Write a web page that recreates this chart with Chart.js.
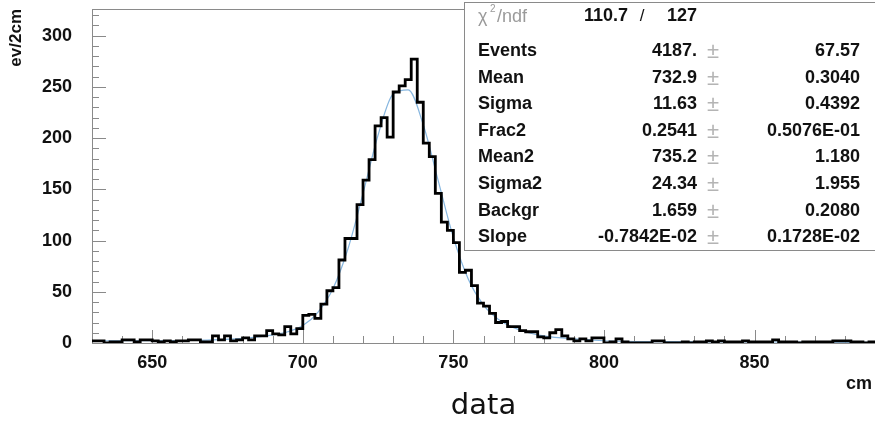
<!DOCTYPE html>
<html>
<head>
<meta charset="utf-8">
<script src="https://cdn.jsdelivr.net/npm/chart.js@4.4.1/dist/chart.umd.min.js"></script>
<style>
  html, body { margin: 0; padding: 0; background: #fff; }
</style>
</head>
<body>
<canvas id="chart" width="875" height="424"></canvas>
<script>
// Histogram: 2 cm bins starting at 630 cm
const binStart = 630;
const binWidth = 2;
const counts = [
    2, 2, 0, 1, 1, 3, 3, 1, 3, 3,
    2, 1, 2, 1, 2, 2, 3, 3, 1, 1,
    7, 3, 7, 2, 3, 5, 3, 7, 7, 12,
    9, 8, 16, 9, 14, 27, 28, 24, 38, 51,
    54, 81, 102, 102, 135, 159, 179, 212, 220, 201,
    245, 251, 257, 277, 235, 195, 182, 146, 118, 110,
    98, 69, 71, 56, 39, 36, 29, 20, 21, 16,
    16, 12, 11, 11, 6, 5, 10, 13, 7, 4,
    2, 4, 2, 5, 5, 0, 1, 4, 1, 0,
    0, 0, 0, 2, 2, 0, 0, 0, 1, 0,
    1, 1, 2, 1, 2, 1, 1, 1, 2, 1,
    1, 1, 1, 3, 1, 1, 1, 0, 1, 1,
    1, 1, 1, 2, 2, 2, 1, 1, 0, 1
];

// Fit curve
const fitX = [630, 640, 650, 660, 670, 680, 685, 690, 695, 700, 705, 710, 715, 720, 725,
              730, 735, 740, 745, 750, 755, 760, 765, 770, 775, 780, 790, 800, 820, 850, 890];
const fitY = [2.2, 2.2, 2.2, 2.4, 3, 4.5, 6, 8, 11, 17, 30, 53, 92, 146, 203,
              243, 247, 213, 158, 103, 62, 37, 23, 15, 10, 7, 4, 2.2, 1.3, 1, 0.7];

// Axes
const xTicks = [650, 700, 750, 800, 850];
const yTicks = [0, 50, 100, 150, 200, 250, 300];

// Fit results box
const statNames = ['Events', 'Mean', 'Sigma', 'Frac2', 'Mean2', 'Sigma2', 'Backgr', 'Slope'];
const statValues = ['4187.', '732.9', '11.63', '0.2541', '735.2', '24.34', '1.659', '-0.7842E-02'];
const statErrors = ['67.57', '0.3040', '0.4392', '0.5076E-01', '1.180', '1.955', '0.2080', '0.1728E-02'];
const chi2 = '110.7';
const ndf = '127';

const FONT = '"Liberation Sans", Arial, Helvetica, sans-serif';
const AXIS_GREY = '#8a8a8a';

const histPoints = counts.map((c, i) => ({ x: binStart + i * binWidth, y: c }));
histPoints.push({ x: binStart + counts.length * binWidth, y: counts[counts.length - 1] });
const fitPoints = fitX.map((x, i) => ({ x: x, y: fitY[i] }));

// no extra label padding around the plot area
function noPadding(scale) {
    scale.paddingTop = 0;
    scale.paddingBottom = 0;
    scale.paddingLeft = 0;
    scale.paddingRight = 0;
}

// Inward tick marks and top frame line
const frameTicks = {
    id: 'frameTicks',
    beforeDatasetsDraw(chart) {
        const { ctx, chartArea: a, scales: { x, y } } = chart;
        ctx.save();
        ctx.strokeStyle = AXIS_GREY;
        ctx.lineWidth = 1;
        ctx.beginPath();
        ctx.moveTo(a.left, a.top + 0.5);
        ctx.lineTo(a.right, a.top + 0.5);
        for (let v = 0; v <= y.max; v += 10) {
            const py = Math.round(y.getPixelForValue(v)) + 0.5;
            const len = v % 50 === 0 ? 14 : 7;
            ctx.moveTo(a.left, py);
            ctx.lineTo(a.left + len, py);
        }
        for (let v = 640; v < x.max; v += 10) {
            const px = Math.round(x.getPixelForValue(v)) + 0.5;
            const len = v % 50 === 0 ? 13 : 7;
            ctx.moveTo(px, a.bottom);
            ctx.lineTo(px, a.bottom - len);
        }
        ctx.stroke();
        ctx.restore();
    }
};

// Fit statistics box and axis unit
const statsBox = {
    id: 'statsBox',
    afterDraw(chart) {
        const { ctx } = chart;
        const left = 464, top = 2, right = 880, bottom = 250;
        ctx.save();
        ctx.fillStyle = '#fff';
        ctx.fillRect(left, top, right - left, bottom - top);
        ctx.strokeStyle = AXIS_GREY;
        ctx.lineWidth = 1;
        ctx.strokeRect(left + 0.5, top + 0.5, right - left, bottom - top);

        ctx.textBaseline = 'middle';
        // chi2 / ndf row
        ctx.fillStyle = '#9a9a9a';
        ctx.font = '18px ' + FONT;
        ctx.textAlign = 'left';
        ctx.fillText('χ', 478, 17);
        ctx.font = '10px ' + FONT;
        ctx.fillText('2', 490, 9);
        ctx.font = '18px ' + FONT;
        ctx.fillText('/ndf', 497, 17);
        ctx.fillStyle = '#111';
        ctx.font = 'bold 18px ' + FONT;
        ctx.textAlign = 'right';
        ctx.fillText(chi2, 628, 16);
        ctx.fillText(ndf, 697, 16);
        ctx.font = '17px ' + FONT;
        ctx.textAlign = 'center';
        ctx.fillText('/', 642, 16);

        statNames.forEach((name, i) => {
            const ty = 51 + i * 26.6;
            ctx.fillStyle = '#111';
            ctx.font = 'bold 18px ' + FONT;
            ctx.textAlign = 'left';
            ctx.fillText(name, 478, ty);
            ctx.textAlign = 'right';
            ctx.fillText(statValues[i], 697, ty);
            ctx.fillText(statErrors[i], 860, ty);
            ctx.fillStyle = '#b4b4b4';
            ctx.font = '22px ' + FONT;
            ctx.textAlign = 'center';
            ctx.fillText('±', 713, ty + 1);
        });

        // axis unit
        ctx.fillStyle = '#111';
        ctx.font = 'bold 18px ' + FONT;
        ctx.textAlign = 'right';
        ctx.fillText('cm', 872, 384);
        ctx.restore();
    }
};

new Chart(document.getElementById('chart'), {
    type: 'line',
    data: {
        datasets: [
            {
                label: 'fit',
                data: fitPoints,
                borderColor: '#86b6df',
                borderWidth: 1.2,
                pointRadius: 0,
                cubicInterpolationMode: 'monotone',
                fill: false,
                order: 2
            },
            {
                label: 'data',
                data: histPoints,
                borderColor: '#000',
                borderWidth: 2.8,
                pointRadius: 0,
                stepped: true,
                fill: false,
                order: 1
            }
        ]
    },
    options: {
        responsive: false,
        animation: false,
        layout: { padding: { top: 9, right: 0, left: 0, bottom: 0 } },
        plugins: {
            legend: { display: false },
            tooltip: { enabled: false }
        },
        scales: {
            x: {
                type: 'linear',
                min: 630,
                max: 890,
                grid: { display: false, drawTicks: false },
                border: { color: AXIS_GREY, width: 1 },
                afterBuildTicks: (scale) => { scale.ticks = xTicks.map(v => ({ value: v })); },
                afterFit: (scale) => { scale.height = 81; noPadding(scale); },
                ticks: {
                    color: '#111',
                    padding: 9,
                    maxRotation: 0,
                    font: { family: FONT, size: 18, weight: 'bold' }
                },
                title: {
                    display: true,
                    text: 'data',
                    color: '#111',
                    padding: { top: 0, bottom: 0 },
                    font: { family: '"DejaVu Sans", sans-serif', size: 29 }
                }
            },
            y: {
                min: 0,
                max: 326,
                grid: { display: false, drawTicks: false },
                border: { color: AXIS_GREY, width: 1 },
                afterBuildTicks: (scale) => { scale.ticks = yTicks.map(v => ({ value: v })); },
                afterFit: (scale) => { scale.width = 92; noPadding(scale); },
                ticks: {
                    color: '#111',
                    padding: 20,
                    font: { family: FONT, size: 18, weight: 'bold' }
                },
                title: {
                    display: true,
                    text: 'ev/2cm',
                    align: 'end',
                    color: '#111',
                    padding: { top: 6, bottom: 0 },
                    font: { family: FONT, size: 17, weight: 'bold' }
                }
            }
        }
    },
    plugins: [frameTicks, statsBox]
});
</script>
</body>
</html>
